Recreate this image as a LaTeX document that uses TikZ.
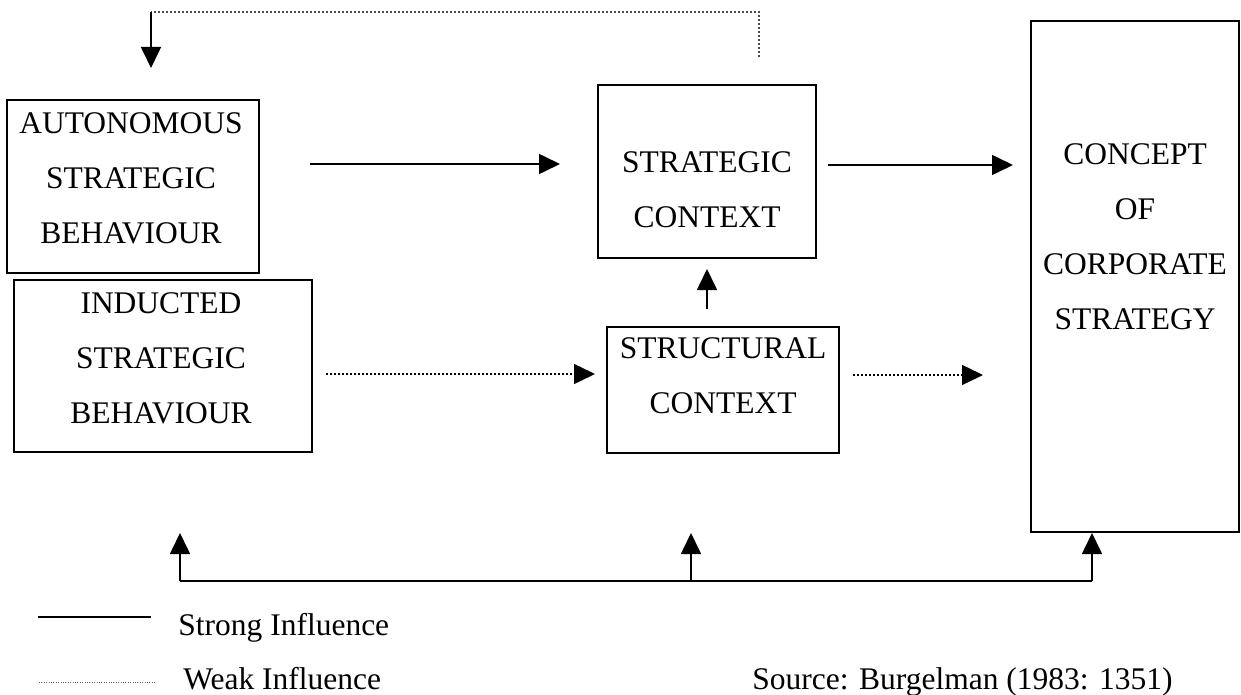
\documentclass[tikz,border=0pt]{standalone}
\usepackage{fontspec}
\setmainfont{Liberation Serif}
\usepackage{tikz}
\usetikzlibrary{arrows.meta}
\tikzset{>={Triangle[length=10.5pt,width=10pt]}}

\begin{document}
\begin{tikzpicture}[x=0.5pt,y=-0.5pt,font=\fontsize{15.75}{27.5}\selectfont,
	box/.style={draw,line width=1pt,inner sep=0pt},
	txt/.style={align=center,inner sep=0pt},
	strong/.style={->,line width=0.8pt},
	weak/.style={->,line width=0.7pt,dash pattern=on 0.8pt off 1.2pt}]
	\useasboundingbox (0,0) rectangle (1241,695);
	% boxes
	\node[box,minimum width=126pt,minimum height=86.5pt] (auto) at (133,186.5) {};
	\node[box,minimum width=149pt,minimum height=86pt] (induct) at (163,366) {};
	\node[box,minimum width=109pt,minimum height=86.5pt] (strat) at (707,171.5) {};
	\node[box,minimum width=116pt,minimum height=63pt] (struct) at (723,390) {};
	\node[box,minimum width=104pt,minimum height=255.5pt] (concept) at (1135,276.5) {};
	\node[txt] (autoT) at (131,178) {AUTONOMOUS\\STRATEGIC\\BEHAVIOUR};
	\node[txt] (inductT) at (161,358) {INDUCTED\\STRATEGIC\\BEHAVIOUR};
	\node[txt] (stratT) at (707,190) {STRATEGIC\\CONTEXT};
	\node[txt] (structT) at (723,376) {STRUCTURAL\\CONTEXT};
	\node[txt] (conceptT) at (1135,237) {CONCEPT\\OF\\CORPORATE\\STRATEGY};
	% arrow ends
	\coordinate (a1s) at (310,164);
	\coordinate (a1e) at (560,164);
	\coordinate (a2s) at (828,165);
	\coordinate (a2e) at (1013,165);
	\coordinate (ups) at (707,309);
	\coordinate (upe) at (707,269);
	\coordinate (d1s) at (326,374);
	\coordinate (d1e) at (595,374);
	\coordinate (d2s) at (853,375);
	\coordinate (d2e) at (983,375);
	\coordinate (fbs) at (759,57);
	\coordinate (fbc) at (151,12);
	\coordinate (fbe) at (151,68);
	\coordinate (b1) at (180,581);
	\coordinate (b2) at (691,581);
	\coordinate (b3) at (1092,581);
	\draw[strong] (a1s) -- (a1e);
	\draw[strong] (a2s) -- (a2e);
	\draw[strong] (ups) -- (upe);
	\draw[weak] (d1s) -- (d1e);
	\draw[weak] (d2s) -- (d2e);
	\draw[weak,-,black!70] (fbs) |- (fbc);
	\draw[strong] (fbc) -- (fbe);
	\draw[line width=0.8pt] (b1) -- (b3);
	\draw[strong] (b1) -- (b1 |- concept.south);
	\draw[strong] (b2) -- (b2 |- concept.south);
	\draw[strong] (b3) -- (b3 |- concept.south);
	% legend
	\coordinate (ls1) at (38,617);
	\coordinate (ls2) at (151,617);
	\coordinate (lw1) at (39,682);
	\coordinate (lw2) at (155,682);
	\draw[line width=0.8pt] (ls1) -- (ls2);
	\draw[line width=0.5pt,black!60,dash pattern=on 0.5pt off 0.7pt] (lw1) -- (lw2);
	\node[anchor=base west,inner sep=0pt] (strongT) at (178,635) {Strong Influence};
	\node[anchor=base west,inner sep=0pt] (weakT) at (183,689) {Weak Influence};
	\node[anchor=base west,inner sep=0pt] (srcT) at (752,689) {Source: Burgelman (1983: 1351)};
\end{tikzpicture}
\end{document}
